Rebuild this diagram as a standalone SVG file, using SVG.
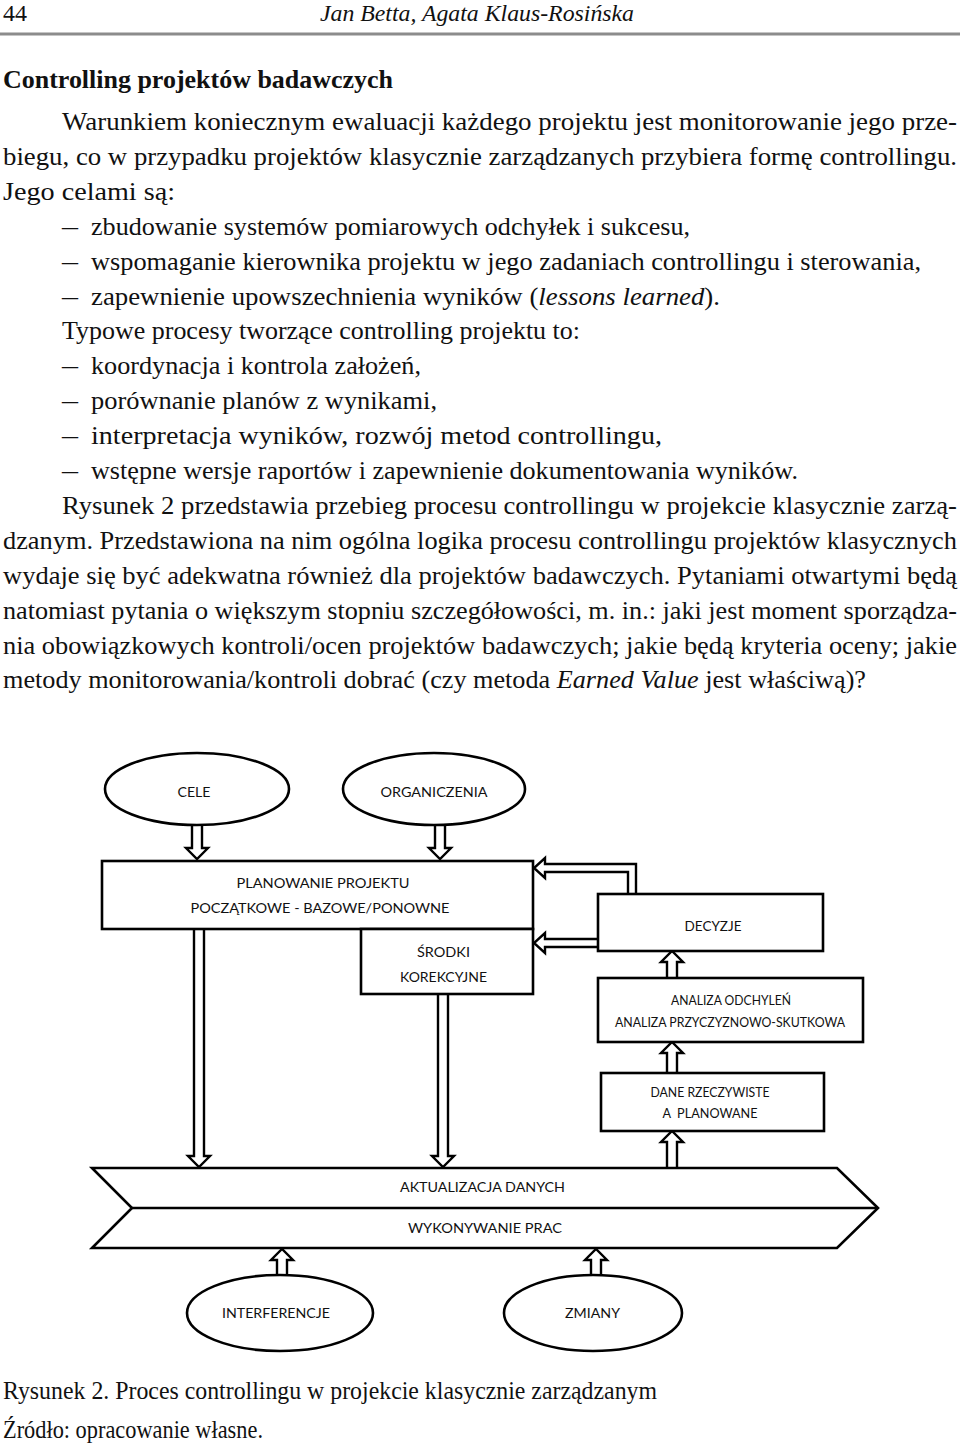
<svg xmlns="http://www.w3.org/2000/svg" width="960" height="1447" viewBox="0 0 960 1447">
<style>
.b{font-family:"Liberation Serif","Times New Roman",serif;font-size:26px;fill:#111}
.h{font-size:24px}
.i{font-style:italic}
.t{font-family:"Liberation Serif","Times New Roman",serif;font-size:26px;font-weight:bold;fill:#111}
.l{font-family:Lato,"Open Sans","Liberation Sans",sans-serif;font-size:14px;fill:#111;text-anchor:middle}
.s{font-size:13px}
.sh{fill:#fff;stroke:#000;stroke-width:2.6}
.ar{fill:#fff;stroke:#000;stroke-width:2.4;stroke-linejoin:miter}
</style>
<rect width="960" height="1447" fill="#fff"/>
<g id="page-text">
<text class="b h" x="3" y="21" textLength="24" lengthAdjust="spacingAndGlyphs">44</text>
<text class="b h i" x="320" y="21" textLength="314" lengthAdjust="spacingAndGlyphs">Jan Betta, Agata Klaus-Rosińska</text>
<line x1="0" y1="34" x2="960" y2="34" stroke="#8c8c8c" stroke-width="3"/>
<text class="t" x="3" y="88" textLength="390" lengthAdjust="spacingAndGlyphs">Controlling projektów badawczych</text>
<text class="b" x="62" y="130" textLength="895" lengthAdjust="spacingAndGlyphs">Warunkiem koniecznym ewaluacji każdego projektu jest monitorowanie jego prze-</text>
<text class="b" x="3" y="164.9" textLength="954" lengthAdjust="spacingAndGlyphs">biegu, co w przypadku projektów klasycznie zarządzanych przybiera formę controllingu.</text>
<text class="b" x="3" y="199.8" textLength="172" lengthAdjust="spacingAndGlyphs">Jego celami są:</text>
<text class="b" x="62" y="234.7" textLength="16" lengthAdjust="spacingAndGlyphs">–</text>
<text class="b" x="91" y="234.7" textLength="599" lengthAdjust="spacingAndGlyphs">zbudowanie systemów pomiarowych odchyłek i sukcesu,</text>
<text class="b" x="62" y="269.6" textLength="16" lengthAdjust="spacingAndGlyphs">–</text>
<text class="b" x="91" y="269.6" textLength="830" lengthAdjust="spacingAndGlyphs">wspomaganie kierownika projektu w jego zadaniach controllingu i sterowania,</text>
<text class="b" x="62" y="304.5" textLength="16" lengthAdjust="spacingAndGlyphs">–</text>
<text class="b" x="91" y="304.5" textLength="629" lengthAdjust="spacingAndGlyphs">zapewnienie upowszechnienia wyników (<tspan class="i">lessons learned</tspan>).</text>
<text class="b" x="62" y="339.4" textLength="518" lengthAdjust="spacingAndGlyphs">Typowe procesy tworzące controlling projektu to:</text>
<text class="b" x="62" y="374.3" textLength="16" lengthAdjust="spacingAndGlyphs">–</text>
<text class="b" x="91" y="374.3" textLength="330" lengthAdjust="spacingAndGlyphs">koordynacja i kontrola założeń,</text>
<text class="b" x="62" y="409.2" textLength="16" lengthAdjust="spacingAndGlyphs">–</text>
<text class="b" x="91" y="409.2" textLength="346" lengthAdjust="spacingAndGlyphs">porównanie planów z wynikami,</text>
<text class="b" x="62" y="444.1" textLength="16" lengthAdjust="spacingAndGlyphs">–</text>
<text class="b" x="91" y="444.1" textLength="571" lengthAdjust="spacingAndGlyphs">interpretacja wyników, rozwój metod controllingu,</text>
<text class="b" x="62" y="479" textLength="16" lengthAdjust="spacingAndGlyphs">–</text>
<text class="b" x="91" y="479" textLength="707" lengthAdjust="spacingAndGlyphs">wstępne wersje raportów i zapewnienie dokumentowania wyników.</text>
<text class="b" x="62" y="513.9" textLength="895" lengthAdjust="spacingAndGlyphs">Rysunek 2 przedstawia przebieg procesu controllingu w projekcie klasycznie zarzą-</text>
<text class="b" x="3" y="548.8" textLength="954" lengthAdjust="spacingAndGlyphs">dzanym. Przedstawiona na nim ogólna logika procesu controllingu projektów klasycznych</text>
<text class="b" x="3" y="583.7" textLength="954" lengthAdjust="spacingAndGlyphs">wydaje się być adekwatna również dla projektów badawczych. Pytaniami otwartymi będą</text>
<text class="b" x="3" y="618.6" textLength="954" lengthAdjust="spacingAndGlyphs">natomiast pytania o większym stopniu szczegółowości, m. in.: jaki jest moment sporządza-</text>
<text class="b" x="3" y="653.5" textLength="954" lengthAdjust="spacingAndGlyphs">nia obowiązkowych kontroli/ocen projektów badawczych; jakie będą kryteria oceny; jakie</text>
<text class="b" x="3" y="688.4" textLength="863" lengthAdjust="spacingAndGlyphs">metody monitorowania/kontroli dobrać (czy metoda <tspan class="i">Earned Value</tspan> jest właściwą)?</text>
<text class="b" x="3" y="1399" textLength="654" lengthAdjust="spacingAndGlyphs">Rysunek 2. Proces controllingu w projekcie klasycznie zarządzanym</text>
<text class="b" x="3" y="1438" textLength="260" lengthAdjust="spacingAndGlyphs">Źródło: opracowanie własne.</text>
</g>
<g id="connectors">
<path class="ar" d="M192 825 V848 H186 L197 859 L208 848 H202 V825"/>
<path class="ar" d="M435 825 V848 H429 L440 859 L451 848 H445 V825"/>
<path class="ar" d="M194 929 V1156 H188 L199 1167 L210 1156 H204 V929"/>
<path class="ar" d="M438 994 V1156 H432 L443 1167 L454 1156 H448 V994"/>
<path class="ar" d="M667 1073 V1053 H661 L672 1042 L683 1053 H677 V1073"/>
<path class="ar" d="M667 978 V962 H661 L672 951 L683 962 H677 V978"/>
<path class="ar" d="M667 1167 V1142 H661 L672 1131 L683 1142 H677 V1167"/>
<path class="ar" d="M277 1275 V1260 H271 L282 1249 L293 1260 H287 V1275"/>
<path class="ar" d="M591 1275 V1260 H585 L596 1249 L607 1260 H601 V1275"/>
<path class="ar" d="M598 939 H545 V933 L534 943 L545 953 V947 H598"/>
<path class="ar" d="M628 894 V872 H545 V878 L534 868 L545 858 V864 H636 V894"/>
</g>
<g id="cele">
<ellipse class="sh" cx="197" cy="789" rx="92" ry="36"/>
<text class="l" x="194" y="797" textLength="33" lengthAdjust="spacingAndGlyphs">CELE</text>
</g>
<g id="ograniczenia">
<ellipse class="sh" cx="434" cy="789" rx="91" ry="36"/>
<text class="l" x="434" y="797" textLength="107" lengthAdjust="spacingAndGlyphs">ORGANICZENIA</text>
</g>
<g id="planowanie">
<rect class="sh" x="102" y="861" width="431" height="68"/>
<text class="l" x="323" y="888" textLength="173" lengthAdjust="spacingAndGlyphs">PLANOWANIE PROJEKTU</text>
<text class="l" x="320" y="912.5" textLength="259" lengthAdjust="spacingAndGlyphs">POCZĄTKOWE - BAZOWE/PONOWNE</text>
</g>
<g id="srodki">
<rect class="sh" x="361" y="929" width="172" height="65"/>
<text class="l" x="443.5" y="957" textLength="53" lengthAdjust="spacingAndGlyphs">ŚRODKI</text>
<text class="l" x="443.5" y="981.5" textLength="87" lengthAdjust="spacingAndGlyphs">KOREKCYJNE</text>
</g>
<g id="decyzje">
<rect class="sh" x="598" y="894" width="225" height="57"/>
<text class="l" x="713" y="930.5" textLength="57" lengthAdjust="spacingAndGlyphs">DECYZJE</text>
</g>
<g id="analiza">
<rect class="sh" x="598" y="978" width="265" height="64"/>
<text class="l s" x="731" y="1005" textLength="120" lengthAdjust="spacingAndGlyphs">ANALIZA ODCHYLEŃ</text>
<text class="l s" x="730" y="1026.5" textLength="230" lengthAdjust="spacingAndGlyphs">ANALIZA PRZYCZYZNOWO-SKUTKOWA</text>
</g>
<g id="dane">
<rect class="sh" x="601" y="1073" width="223" height="58"/>
<text class="l s" x="710" y="1097" textLength="119" lengthAdjust="spacingAndGlyphs">DANE RZECZYWISTE</text>
<text class="l s" x="710" y="1118" textLength="95" lengthAdjust="spacingAndGlyphs" xml:space="preserve">A  PLANOWANE</text>
</g>
<g id="realizacja">
<polygon class="sh" points="92,1168 837,1168 878,1208 837,1248 92,1248 132,1208"/>
<line x1="132" y1="1208" x2="878" y2="1208" stroke="#000" stroke-width="2.6"/>
<text class="l" x="482.5" y="1192" textLength="165" lengthAdjust="spacingAndGlyphs">AKTUALIZACJA DANYCH</text>
<text class="l" x="485" y="1233" textLength="154" lengthAdjust="spacingAndGlyphs">WYKONYWANIE PRAC</text>
</g>
<g id="interferencje">
<ellipse class="sh" cx="280" cy="1313" rx="93" ry="38"/>
<text class="l" x="276" y="1318" textLength="108" lengthAdjust="spacingAndGlyphs">INTERFERENCJE</text>
</g>
<g id="zmiany">
<ellipse class="sh" cx="593" cy="1313" rx="89" ry="38"/>
<text class="l" x="592.5" y="1318" textLength="55" lengthAdjust="spacingAndGlyphs">ZMIANY</text>
</g>
</svg>
